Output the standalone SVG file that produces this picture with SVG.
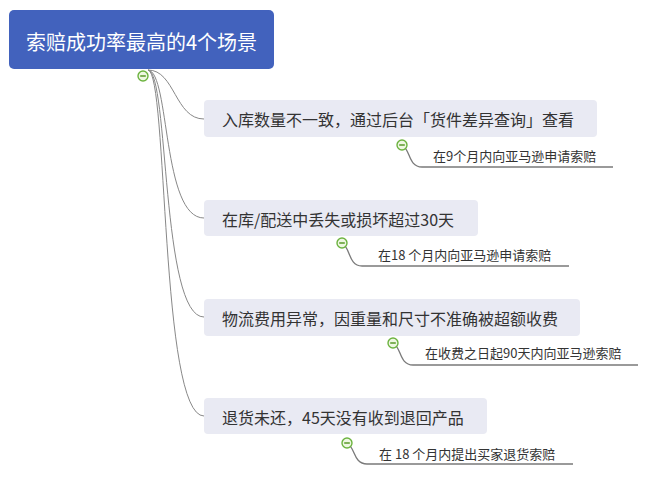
<svg xmlns="http://www.w3.org/2000/svg" width="646" height="477" viewBox="0 0 646 477">
<style>
.root{fill:#4262bd}
.box{fill:#e9eaf3}
.t{font-family:"Noto Sans CJK SC","Microsoft YaHei",sans-serif;fill:#333;font-size:16px}
.s{font-family:"Noto Sans CJK SC","Microsoft YaHei",sans-serif;fill:#333;font-size:13px}
.rt{font-family:"Noto Sans CJK SC","Microsoft YaHei",sans-serif;fill:#fff;font-size:20px}
.ln{fill:none;stroke:#888;stroke-width:1}
.ul{fill:none;stroke:#7a7a7a;stroke-width:1.3}
.cc{fill:#eef7e2;stroke:#6cb33f;stroke-width:1.4}
.cm{stroke:#5a9a2a;stroke-width:1.5}
</style>
<defs>
<g id="col"><circle r="5" class="cc"/><line x1="-2.8" y1="0" x2="2.8" y2="0" class="cm"/></g>
</defs>
<g id="connectors">
<path class="ln" d="M148,70 C175,70 175,119 204,119"/>
<path class="ln" d="M148,70 C170,72 162,218 204,218"/>
<path class="ln" d="M148,70 C169,72 161,317 204,317"/>
<path class="ln" d="M148,70 C168,72 160,416 204,416"/>
<path class="ul" d="M404,147 C410,151 409,167 422,167 H613"/>
<path class="ul" d="M344,245 C350,249 349,266 362,266 H569"/>
<path class="ul" d="M395,345 C401,349 400,365 413,365 H638"/>
<path class="ul" d="M349,445 C355,449 354,464 367,464 H573"/>
</g>
<g id="root">
<rect class="root" x="9" y="10" width="265" height="59" rx="5"/>
<text class="rt" x="141.5" y="41" text-anchor="middle" dominant-baseline="central">索赔成功率最高的4个场景</text>
<use href="#col" x="143" y="76"/>
</g>
<g id="n1">
<rect class="box" x="204" y="100" width="393" height="37" rx="4"/>
<text class="t" x="222" y="119" dominant-baseline="central">入库数量不一致，通过后台「货件差异查询」查看</text>
<use href="#col" x="402" y="145"/>
</g>
<g id="n1s"><text class="s" x="433" y="161">在9个月内向亚马逊申请索赔</text></g>
<g id="n2">
<rect class="box" x="204" y="200" width="274" height="36" rx="4"/>
<text class="t" x="222" y="218.5" dominant-baseline="central">在库/配送中丢失或损坏超过30天</text>
<use href="#col" x="342" y="243"/>
</g>
<g id="n2s"><text class="s" x="378" y="260">在18 个月内向亚马逊申请索赔</text></g>
<g id="n3">
<rect class="box" x="204" y="299" width="376" height="37" rx="4"/>
<text class="t" x="222" y="318" dominant-baseline="central">物流费用异常，因重量和尺寸不准确被超额收费</text>
<use href="#col" x="393" y="343"/>
</g>
<g id="n3s"><text class="s" x="425" y="358">在收费之日起90天内向亚马逊索赔</text></g>
<g id="n4">
<rect class="box" x="204" y="398" width="283" height="36" rx="4"/>
<text class="t" x="222" y="416.5" dominant-baseline="central">退货未还，45天没有收到退回产品</text>
<use href="#col" x="347" y="443"/>
</g>
<g id="n4s"><text class="s" x="379" y="459">在 18 个月内提出买家退货索赔</text></g>
</svg>
